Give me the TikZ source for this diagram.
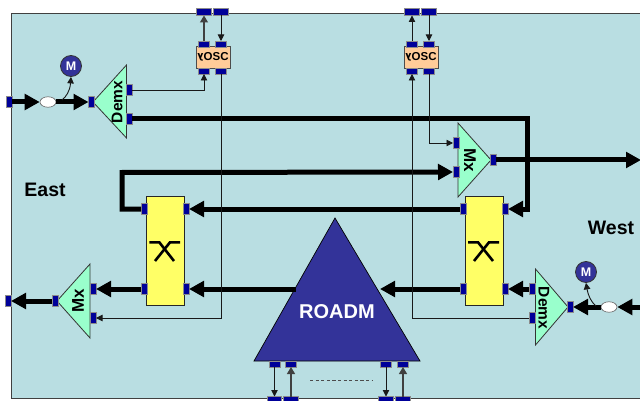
\documentclass[tikz,border=0pt]{standalone}
\usepackage{fontspec}
\setmainfont{Liberation Sans}
\usetikzlibrary{arrows.meta,shapes.geometric}
\definecolor{bgc}{HTML}{B9DEE2}
\definecolor{tric}{HTML}{99FFCC}
\definecolor{yel}{HTML}{FFFF66}
\definecolor{peach}{HTML}{FFCC99}
\definecolor{portc}{HTML}{000099}
\definecolor{indig}{HTML}{333399}
\tikzset{
 porttall/.style={draw=black!45,line width=.7pt,fill=portc,minimum width=6pt,minimum height=11pt,inner sep=0pt,outer sep=0pt},
 portwide/.style={draw=black!45,line width=.7pt,fill=portc,minimum width=11pt,minimum height=6pt,inner sep=0pt,outer sep=0pt},
 portout/.style={draw=black!45,line width=.7pt,fill=portc,minimum width=14.5pt,minimum height=7pt,inner sep=0pt,outer sep=0pt},
 fat/.style={line width=5pt,draw=black,-{Triangle[length=15pt,width=15.5pt]}},
 thin/.style={line width=.9pt,draw=black!90,-{Triangle[length=6.5pt,width=6.5pt]}},
 mid/.style={line width=1.3pt,draw=black!75,-{Triangle[length=7pt,width=8pt]}},
 tri/.style={draw=black!80,line width=.8pt,fill=tric,line join=miter},
 xbox/.style={draw=black!85,line width=1pt,fill=yel,minimum width=38pt,minimum height=109pt,inner sep=0pt},
 osc/.style={draw=black!70,line width=.8pt,fill=peach,minimum width=34pt,minimum height=22pt,inner sep=0pt,font=\fontsize{11.5}{11.5}\selectfont\bfseries},
 motor/.style={circle,draw=black!80,line width=.8pt,fill=indig,minimum size=21pt,inner sep=0pt,text=white,font=\fontsize{12.5}{12.5}\selectfont\bfseries},
 tap/.style={ellipse,draw=black!60,line width=.6pt,fill=white,minimum width=16pt,minimum height=10.5pt,inner sep=0pt},
 lab/.style={font=\fontsize{19.5}{20}\selectfont\bfseries,inner sep=0pt},
 trilab/.style={font=\fontsize{15.5}{16}\selectfont\bfseries,inner sep=0pt},
 trilabb/.style={font=\fontsize{17}{17}\selectfont\bfseries,inner sep=0pt},
 crossmark/.style={line width=2.6pt,draw=black}
}
\newcommand{\oscl}{\rotatebox[origin=c]{180}{\fontspec{DejaVu Sans}\fontsize{10}{10}\selectfont\bfseries λ}OSC}
\begin{document}
\begin{tikzpicture}[x=1pt,y=-1pt]
\useasboundingbox (0,0) rectangle (640,401);
\fill[white] (0,0) rectangle (640,401);
\draw[fill=bgc,draw=black!75,line width=1pt] (11.5,14) -- (11.5,398.5) -- (641,398.5) -- (641,14) -- cycle;

% triangles
\draw[tri] (126.5,65) -- (126.5,138) -- (93,102) -- cycle;
\draw[tri] (90,264) -- (90,338) -- (57,301) -- cycle;
\draw[tri] (458,123) -- (458,197) -- (491,160) -- cycle;
\draw[tri] (535.5,269) -- (535.5,345) -- (568,307) -- cycle;
\draw[draw=black,line width=.7pt,fill=indig] (335,218) -- (420,361) -- (254,361) -- cycle;
\node[text=white,font=\fontsize{20}{20}\selectfont\bfseries,inner sep=0pt] (roadm) at (337,312) {ROADM};
\coordinate (roadmL) at (296,289);
\coordinate (roadmR) at (380,289);

\node[trilab,rotate=90] (dmE) at (117,102) {Demx};
\node[trilabb,rotate=90] (mxE) at (78,301) {Mx};
\node[trilabb,rotate=-90] (mxW) at (470,160) {Mx};
\node[trilab,rotate=-90] (dmW) at (544,308) {Demx};

% boxes
\node[xbox] (xL) at (165,250.5) {};
\node[xbox] (xR) at (484,250.5) {};
\draw[crossmark] (149.3,242.3) -- (159.3,242.3) -- (174,261);
\draw[crossmark] (180,242.3) -- (170,242.3) -- (155,261);
\draw[crossmark] (468,242.3) -- (478,242.3) -- (493,261);
\draw[crossmark] (499,242.3) -- (489,242.3) -- (474,261);
\node[osc] (oscE) at (213,57) {\oscl};
\node[osc] (oscW) at (421,57) {\oscl};
\node[motor] (mE) at (71,66) {M};
\node[motor] (mW) at (586,272) {M};
\node[tap] (tE) at (48,102) {};
\node[tap] (tW) at (609,307) {};

% ports
\node[porttall] (inE) at (9,102) {};
\node[porttall] (dmEin) at (91.5,102) {};
\node[porttall] (dmEa) at (129,90) {};
\node[porttall] (dmEb) at (129,119) {};
\node[porttall] (mxEout) at (55,301) {};
\node[porttall] (mxEa) at (93,289) {};
\node[porttall] (mxEb) at (93,318) {};
\node[porttall] (outE) at (8,301) {};
\node[porttall] (xLa) at (144,209) {};
\node[porttall] (xLb) at (186,209) {};
\node[porttall] (xLc) at (144,289) {};
\node[porttall] (xLd) at (186,289) {};
\node[porttall] (xRa) at (463,209) {};
\node[porttall] (xRb) at (505,209) {};
\node[porttall] (xRc) at (463,289) {};
\node[porttall] (xRd) at (505,289) {};
\node[porttall] (mxWa) at (456,143) {};
\node[porttall] (mxWb) at (456,172) {};
\node[porttall] (mxWout) at (493,160) {};
\node[porttall] (dmWa) at (532,289) {};
\node[porttall] (dmWb) at (532,318) {};
\node[porttall] (dmWin) at (570,307) {};
\node[portwide] (oEa) at (204,44) {};
\node[portwide] (oEb) at (221,44) {};
\node[portwide] (oEc) at (204,71) {};
\node[portwide] (oEd) at (221,71) {};
\node[portwide] (oWa) at (412,44) {};
\node[portwide] (oWb) at (429,44) {};
\node[portwide] (oWc) at (412,71) {};
\node[portwide] (oWd) at (429,71) {};
\node[portout] (tEa) at (204,12) {};
\node[portout] (tEb) at (221,12) {};
\node[portout] (tWa) at (412,12) {};
\node[portout] (tWb) at (429,12) {};
\node[portwide] (rA) at (274.5,364) {};
\node[portwide] (rB) at (291,364) {};
\node[portwide] (rC) at (386,364) {};
\node[portwide] (rD) at (403,364) {};
\node[portout] (bA) at (274.5,400) {};
\node[portout] (bB) at (291,400) {};
\node[portout] (bC) at (386,400) {};
\node[portout] (bD) at (403,400) {};
\coordinate (outW) at (641,160);
\coordinate (inW) at (641,307);

% fat connectors
\draw[fat] (inE.east) -- (tE.west);
\draw[fat] (tE.east) -- (dmEin.west);
\draw[fat] (dmEb.east) -- (527,119) -- (527,209) -- (xRb.east);
\draw[fat] (xRa.west) -- (xLb.east);
\draw[fat] (xLa.west) -- (122,209) -- (122,172.5) -- (mxWb.west);
\draw[fat] (mxWout.east) -- (outW);
\draw[fat] (xLc.west) -- (mxEa.east);
\draw[fat] (mxEout.west) -- (outE.east);
\draw[fat] (roadmL) -- (xLd.east);
\draw[fat] (xRc.west) -- (roadmR);
\draw[fat] (dmWa.west) -- (xRd.east);
\draw[fat] (inW) -- (tW.east);
\draw[fat] (tW.west) -- (dmWin.east);

% thin connectors
\draw[thin] (dmEa.east) -- (204,90) -- (oEc.south);
\draw[thin] (oEd.south) -- (221,318) -- (mxEb.east);
\draw[thin] (oWd.south) -- (429,143) -- (mxWa.west);
\draw[thin] (dmWb.west) -- (412,318) -- (oWc.south);
\draw[mid] (oEa.north) -- (tEa.south);
\draw[thin] (tEb.south) -- (oEb.north);
\draw[thin] (oWa.north) -- (tWa.south);
\draw[thin] (tWb.south) -- (oWb.north);
\draw[thin] (rA.south) -- (bA.north);
\draw[mid] (bB.north) -- (rB.south);
\draw[thin] (rC.south) -- (bC.north);
\draw[mid] (bD.north) -- (rD.south);
\draw[thin] (62,100) .. controls (66,97) and (70,91) .. (mE.south);
\draw[thin] (596,306) .. controls (591,302) and (588,295) .. (mW.south);

\draw[line width=.7pt,draw=black!70,dash pattern=on 3.2pt off 2.4pt] (310,380) -- (372,380);

\node[lab] (east) at (45,189.5) {East};
\node[lab] (west) at (611,228) {West};
\end{tikzpicture}
\end{document}
